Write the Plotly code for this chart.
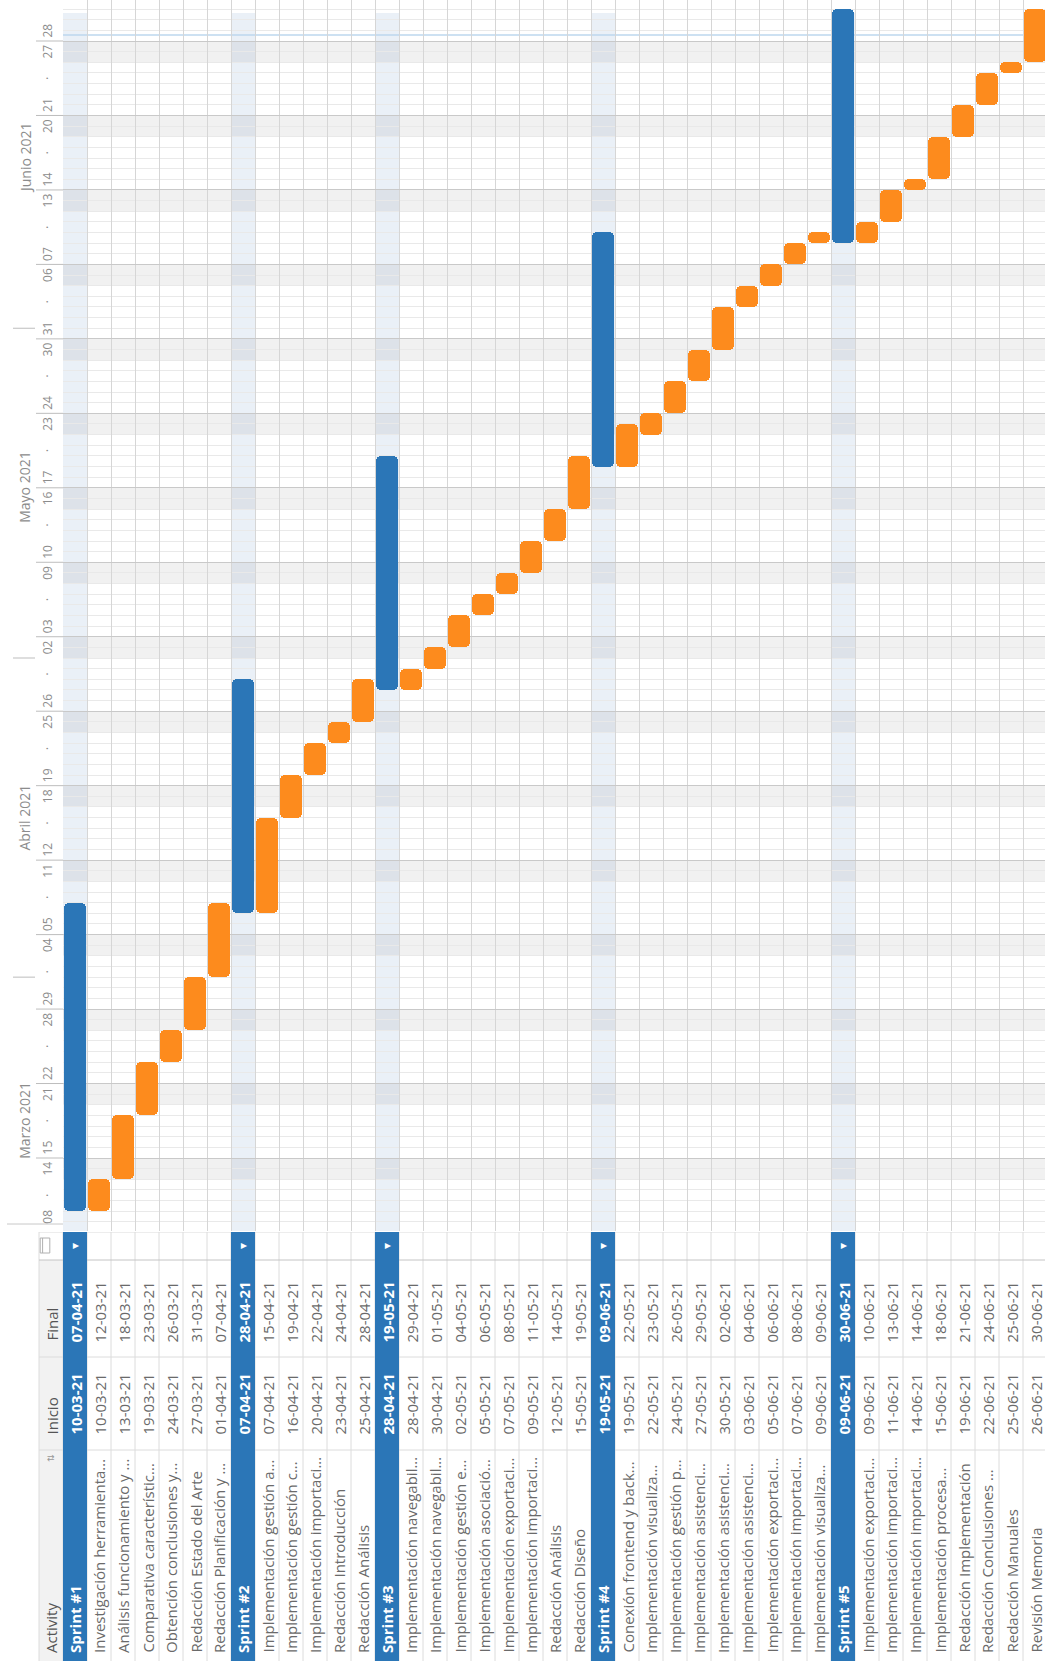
import plotly.graph_objects as go
import pandas as pd

W, H = 1045, 1661
FONT = "Open Sans"

# ---------------- data ----------------
activities = [
    "Sprint #1", "Investigación herramienta...", "Análisis funcionamiento y ...",
    "Comparativa característic...", "Obtención conclusiones y...", "Redacción Estado del Arte",
    "Redacción Planificación y ...",
    "Sprint #2", "Implementación gestión a...", "Implementación gestión c...",
    "Implementación importaci...", "Redacción Introducción", "Redacción Análisis",
    "Sprint #3", "Implementación navegabil...", "Implementación navegabil...",
    "Implementación gestión e...", "Implementación asociació...", "Implementación exportaci...",
    "Implementación importaci...", "Redacción Análisis", "Redacción Diseño",
    "Sprint #4", "Conexión frontend y back...", "Implementación visualiza...",
    "Implementación gestión p...", "Implementación asistenci...", "Implementación asistenci...",
    "Implementación asistenci...", "Implementación exportaci...", "Implementación importaci...",
    "Implementación visualiza...",
    "Sprint #5", "Implementación exportaci...", "Implementación importaci...",
    "Implementación importaci...", "Implementación procesa...", "Redacción Implementación",
    "Redacción Conclusiones ...", "Redacción Manuales", "Revisión Memoria",
]
inicio = [
    "10-03-21", "10-03-21", "13-03-21", "19-03-21", "24-03-21", "27-03-21", "01-04-21",
    "07-04-21", "07-04-21", "16-04-21", "20-04-21", "23-04-21", "25-04-21",
    "28-04-21", "28-04-21", "30-04-21", "02-05-21", "05-05-21", "07-05-21", "09-05-21",
    "12-05-21", "15-05-21",
    "19-05-21", "19-05-21", "22-05-21", "24-05-21", "27-05-21", "30-05-21", "03-06-21",
    "05-06-21", "07-06-21", "09-06-21",
    "09-06-21", "09-06-21", "11-06-21", "14-06-21", "15-06-21", "19-06-21", "22-06-21",
    "25-06-21", "26-06-21",
]
final = [
    "07-04-21", "12-03-21", "18-03-21", "23-03-21", "26-03-21", "31-03-21", "07-04-21",
    "28-04-21", "15-04-21", "19-04-21", "22-04-21", "24-04-21", "28-04-21",
    "19-05-21", "29-04-21", "01-05-21", "04-05-21", "06-05-21", "08-05-21", "11-05-21",
    "14-05-21", "19-05-21",
    "09-06-21", "22-05-21", "23-05-21", "26-05-21", "29-05-21", "02-06-21", "04-06-21",
    "06-06-21", "08-06-21", "09-06-21",
    "30-06-21", "10-06-21", "13-06-21", "14-06-21", "18-06-21", "21-06-21", "24-06-21",
    "25-06-21", "30-06-21",
]
header_labels = ["Activity", "Inicio", "Final"]

# time-scale labels
week_mondays = [
    "2021-03-08", "2021-03-15", "2021-03-22", "2021-03-29", "2021-04-05", "2021-04-12",
    "2021-04-19", "2021-04-26", "2021-05-03", "2021-05-10", "2021-05-17", "2021-05-24",
    "2021-05-31", "2021-06-07", "2021-06-14", "2021-06-21", "2021-06-28",
]
month_labels = ["Marzo 2021", "Abril 2021", "Mayo 2021", "Junio 2021"]
month_label_pos = ["2021-03-18 12:00", "2021-04-16", "2021-05-17", "2021-06-17"]
month_starts = ["2021-04-01", "2021-05-01", "2021-06-01"]
today_marker = "2021-06-28 13:30"

# ---------------- styling / geometry (pixels) ----------------
BLUE = "#2b76b7"
ORANGE = "#fd8b1d"
TXT = "#6a6a6a"
SCALE_TXT = "#8c8c8c"
ROW0_PX, ROW_PX = 75.0, 24.0
GRID_LEFT_PX = ROW0_PX - ROW_PX / 2
TL_BOTTOM_PX = 1231
TL_GRID_TOP_PX = 13
TABLE_TOP_PX = 1232
COL_ICON_FINAL, COL_FINAL_INICIO, COL_INICIO_ACT = 1260, 1357, 1450
DAY_PX = 10.638
REF_DAY, REF_PX = pd.Timestamp("2021-03-15"), 1158
SCALE_X, MONTH_X = 47.5, 25


def px_to_date(px):
    return REF_DAY + pd.Timedelta(days=(REF_PX - px) / DAY_PX)


def dstr(ts):
    return pd.Timestamp(ts).strftime("%Y-%m-%d %H:%M:%S")


y_lo, y_hi = px_to_date(TL_BOTTOM_PX), px_to_date(0)
grid_top_date = px_to_date(TL_GRID_TOP_PX)
x_hi = (W - ROW0_PX) / ROW_PX
x_lo_tab = (0 - ROW0_PX) / ROW_PX
tl_dom0 = 1 - TL_BOTTOM_PX / H
tab_dom1 = 1 - TABLE_TOP_PX / H

n = len(activities)
idx = list(range(n))
is_sprint = [a.startswith("Sprint") for a in activities]
s_dt = pd.to_datetime(inicio, format="%d-%m-%y")
e_dt = pd.to_datetime(final, format="%d-%m-%y") + pd.Timedelta(days=1)
dur_ms = ((e_dt - s_dt).total_seconds() * 1000).tolist()
base = [d.strftime("%Y-%m-%d") for d in s_dt]
colors = [BLUE if sp else ORANGE for sp in is_sprint]

fig = go.Figure()
fig.add_trace(go.Bar(
    x=idx, y=dur_ms, base=base, width=0.9,
    marker=dict(color=colors, cornerradius=5, line=dict(width=0)),
    xaxis="x", yaxis="y", hoverinfo="skip", showlegend=False,
))

shapes = []
annotations = []

# ---- timeline background: sprint stripes and weekends ----
for i, sp in enumerate(is_sprint):
    if sp:
        shapes.append(dict(type="rect", xref="x", yref="paper", x0=i - 0.5, x1=i + 0.5,
                           y0=tl_dom0, y1=1, fillcolor="#eaf0f7", line_width=0, layer="below"))
for m in week_mondays[1:]:
    mo = pd.Timestamp(m)
    shapes.append(dict(type="rect", xref="paper", yref="y", x0=GRID_LEFT_PX / W, x1=1,
                       y0=dstr(mo - pd.Timedelta(days=2)), y1=dstr(mo),
                       fillcolor="rgba(0,0,0,0.055)", line_width=0, layer="below"))
# blank strip above the grid
shapes.append(dict(type="rect", xref="paper", yref="paper", x0=0, x1=1,
                   y0=1 - TL_GRID_TOP_PX / H, y1=1, fillcolor="white", line_width=0,
                   layer="between"))
# today marker
shapes.append(dict(type="line", xref="paper", yref="y", x0=GRID_LEFT_PX / W, x1=1,
                   y0=today_marker, y1=today_marker, line=dict(color="#bcd7ee", width=1.5),
                   layer="between"))

# ---- time-scale column ----
def scale_ann(y, text, yshift=0, size=12, x=SCALE_X):
    return dict(xref="paper", yref="y", x=x / W, xanchor="center", y=y, yanchor="middle",
                text=text, showarrow=False, textangle=-90, yshift=yshift,
                font=dict(family=FONT, size=size, color=SCALE_TXT))


for k, m in enumerate(week_mondays):
    mo = pd.Timestamp(m)
    mon_shift = 10 if k == 0 else 4.7
    annotations.append(scale_ann(dstr(mo + pd.Timedelta(hours=12)), mo.strftime("%d"), mon_shift))
    dot = mo + pd.Timedelta(hours=84)
    if dot < grid_top_date:
        annotations.append(scale_ann(dstr(dot), "·"))
    sun = mo + pd.Timedelta(hours=156)
    if sun < grid_top_date:
        annotations.append(scale_ann(dstr(sun), (mo + pd.Timedelta(days=6)).strftime("%d"), -5.7))
    if k > 0:
        shapes.append(dict(type="line", xref="paper", yref="y", x0=36 / W, x1=GRID_LEFT_PX / W,
                           y0=dstr(mo), y1=dstr(mo), line=dict(color="#bdbdbd", width=1)))
for ms in month_starts:
    shapes.append(dict(type="line", xref="paper", yref="y", x0=13 / W, x1=35 / W,
                       y0=ms, y1=ms, line=dict(color="#bdbdbd", width=1)))
for lab, pos in zip(month_labels, month_label_pos):
    annotations.append(scale_ann(pos, lab, size=14, x=MONTH_X))
shapes.append(dict(type="line", xref="paper", yref="paper", x0=7 / W, x1=GRID_LEFT_PX / W,
                   y0=1 - 1224 / H, y1=1 - 1224 / H, line=dict(color="#c8c8c8", width=1)))

# ---- table ----
shapes.append(dict(type="rect", xref="x2", yref="y2", x0=-1.5, x1=-0.5, y0=COL_ICON_FINAL, y1=H,
                   fillcolor="#f2f2f2", line_width=0))
for i in range(-2, n):
    shapes.append(dict(type="line", xref="x2", yref="y2", x0=i + 0.5, x1=i + 0.5,
                       y0=TABLE_TOP_PX, y1=H, line=dict(color="#dcdcdc", width=1)))
for yy, col in [(COL_ICON_FINAL, "#c4c4c4"), (COL_FINAL_INICIO, "#dcdcdc"),
                (COL_INICIO_ACT, "#dcdcdc"), (TABLE_TOP_PX, "#dcdcdc")]:
    shapes.append(dict(type="line", xref="x2", yref="y2", x0=-1.5, x1=x_hi, y0=yy, y1=yy,
                       line=dict(color=col, width=1)))
for i, sp in enumerate(is_sprint):
    if sp:
        shapes.append(dict(type="rect", xref="x2", yref="y2", x0=i - 0.5, x1=i + 0.5,
                           y0=TABLE_TOP_PX, y1=H, fillcolor=BLUE, line_width=0))
        annotations.append(dict(xref="x2", yref="y2", x=i, y=1246, text="▼", showarrow=False,
                                textangle=-90, font=dict(family="DejaVu Sans", size=8, color="white")))
# calendar icon in header
shapes.append(dict(type="rect", xref="x2", yref="y2", x0=-1.45, x1=-1.05, y0=1238, y1=1253,
                   line=dict(color="#b0b0b0", width=1), fillcolor="rgba(0,0,0,0)"))
shapes.append(dict(type="line", xref="x2", yref="y2", x0=-1.35, x1=-1.35, y0=1238, y1=1253,
                   line=dict(color="#b0b0b0", width=1)))
annotations.append(dict(xref="x2", yref="y2", x=-1, y=1458, text="⇅", showarrow=False,
                        textangle=-90, font=dict(family="DejaVu Sans", size=9, color="#999999")))

hdr_y = [1655, COL_INICIO_ACT - 13, COL_FINAL_INICIO - 14]
for lab, yy in zip(header_labels, hdr_y):
    annotations.append(dict(xref="x2", yref="y2", x=-1, y=yy, yanchor="bottom", text=lab,
                            showarrow=False, textangle=-90,
                            font=dict(family=FONT, size=15, color="#555555")))
for i in idx:
    sp = is_sprint[i]
    col = "white" if sp else TXT
    for txt, yy in [(activities[i], 1655), (inicio[i], COL_INICIO_ACT - 13),
                    (final[i], COL_FINAL_INICIO - 12)]:
        annotations.append(dict(xref="x2", yref="y2", x=i, y=yy, yanchor="bottom",
                                text=f"<b>{txt}</b>" if sp else txt, showarrow=False,
                                textangle=-90, font=dict(family=FONT, size=15, color=col)))

fig.update_layout(
    width=W, height=H, margin=dict(l=0, r=0, t=0, b=0),
    paper_bgcolor="white", plot_bgcolor="white", showlegend=False, bargap=0,
    xaxis=dict(domain=[GRID_LEFT_PX / W, 1], range=[-0.5, x_hi], anchor="y",
               tickvals=[i - 0.5 for i in range(n + 1)], showticklabels=False, ticks="",
               showgrid=True, gridcolor="#d6d6d6", gridwidth=1, zeroline=False, showline=False),
    yaxis=dict(domain=[tl_dom0, 1], type="date", range=[dstr(y_lo), dstr(y_hi)], anchor="x",
               tick0="2021-03-15", dtick=7 * 86400000, showticklabels=False, ticks="",
               showgrid=True, gridcolor="#c9c9c9", gridwidth=1, zeroline=False, showline=False,
               minor=dict(dtick=86400000, tick0="2021-03-15", showgrid=True,
                          gridcolor="#e9e9e9", gridwidth=1)),
    xaxis2=dict(domain=[0, 1], range=[x_lo_tab, x_hi], anchor="y2", visible=False),
    yaxis2=dict(domain=[0, tab_dom1], range=[H, TABLE_TOP_PX], anchor="x2", visible=False),
    shapes=shapes, annotations=annotations,
)

fig.write_html("out.html")
